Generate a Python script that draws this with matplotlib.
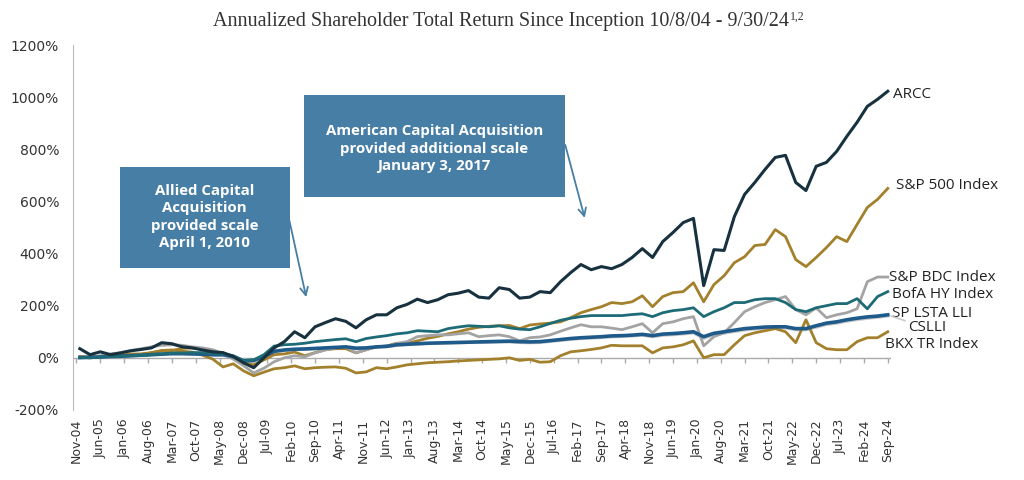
import numpy as np
import pandas as pd
import matplotlib
matplotlib.use("Agg")
import matplotlib.pyplot as plt
from matplotlib.patches import Rectangle, FancyArrowPatch

# quarter-end observations, Dec-04 .. Sep-24 (cumulative total return, %)
quarters = pd.date_range("2004-12-31", "2024-09-30", freq="QE")

arcc = [35, 12, 23, 12, 19, 27, 32, 38, 58, 54,
        42, 38, 30, 23, 20, 5, -19, -38, 0, 38,
        62, 100, 77, 119, 135, 150, 140, 115, 146, 165,
        165, 192, 205, 225, 212, 223, 242, 248, 258, 233,
        229, 269, 262, 229, 233, 254, 250, 292, 327, 358,
        338, 350, 342, 358, 385, 419, 385, 446, 481, 519,
        535, 277, 415, 412, 542, 627, 673, 723, 769, 777,
        673, 642, 735, 750, 792, 850, 904, 965, 992, 1023]

sp500 = [5, 3, 4, 8, 10, 14, 13, 19, 27, 28,
         36, 38, 33, 20, 16, 5, -20, -27, -8, 12,
         15, 22, 8, 20, 31, 35, 35, 19, 31, 42,
         45, 56, 55, 65, 75, 82, 92, 100, 110, 117,
         121, 123, 124, 112, 126, 130, 133, 138, 154, 173,
         185, 196, 212, 208, 215, 238, 196, 235, 250, 254,
         288, 215, 281, 315, 365, 388, 431, 435, 492, 465,
         377, 350, 385, 423, 465, 446, 512, 577, 608, 650]

sp_bdc = [0, 3, 8, 15, 20, 28, 35, 42, 48, 50,
          48, 42, 38, 31, 15, -5, -30, -58, -40, -15,
          0, 8, 4, 19, 30, 38, 42, 19, 31, 42,
          45, 55, 62, 81, 85, 88, 88, 92, 96, 81,
          85, 88, 81, 65, 77, 80, 88, 102, 115, 127,
          119, 119, 114, 108, 119, 131, 96, 131, 138, 150,
          158, 46, 81, 96, 135, 177, 196, 212, 223, 235,
          185, 165, 192, 154, 165, 173, 188, 292, 310, 310]

bofa_hy = [2, 0, 3, 5, 6, 8, 9, 12, 15, 18,
           18, 20, 20, 17, 17, 8, -10, -8, 12, 45,
           50, 52, 56, 62, 66, 70, 73, 62, 74, 80,
           85, 92, 96, 104, 102, 100, 112, 118, 123, 121,
           119, 123, 115, 110, 108, 119, 132, 144, 152, 158,
           162, 162, 162, 162, 166, 169, 158, 173, 181, 185,
           192, 158, 177, 192, 212, 212, 223, 227, 227, 212,
           185, 177, 192, 200, 208, 208, 227, 188, 235, 254]

sp_lsta = [1, 2, 3, 5, 6, 8, 10, 12, 14, 16,
           16, 15, 14, 12, 12, 5, -12, -10, 5, 25,
           30, 33, 34, 36, 38, 40, 42, 37, 38, 42,
           44, 50, 52, 54, 56, 57, 58, 59, 60, 61,
           62, 63, 64, 62, 61, 62, 66, 70, 74, 77,
           79, 81, 84, 85, 87, 90, 85, 91, 93, 96,
           100, 81, 94, 100, 106, 112, 115, 118, 119, 119,
           112, 112, 123, 133, 138, 146, 152, 157, 160, 165]

cslli = [0, 1, 2, 4, 5, 7, 9, 11, 13, 15,
         15, 14, 12, 10, 9, 1, -18, -15, 2, 22,
         28, 31, 32, 34, 36, 38, 40, 34, 36, 40,
         42, 47, 50, 52, 54, 55, 56, 57, 58, 58,
         59, 60, 60, 58, 57, 58, 62, 66, 70, 73,
         75, 77, 80, 81, 83, 86, 80, 86, 88, 91,
         95, 74, 88, 94, 100, 106, 110, 113, 115, 114,
         107, 107, 117, 127, 132, 140, 146, 151, 155, 160]

bkx = [2, 0, 3, 6, 10, 14, 15, 20, 28, 30,
       25, 22, 10, -5, -35, -23, -50, -69, -55, -42,
       -38, -31, -42, -38, -36, -35, -40, -58, -54, -38,
       -42, -35, -27, -23, -19, -17, -15, -12, -10, -8,
       -6, -4, 0, -10, -6, -17, -15, 8, 23, 27,
       32, 38, 48, 46, 46, 46, 19, 38, 42, 50,
       65, 0, 12, 12, 50, 85, 96, 104, 112, 100,
       58, 146, 58, 35, 31, 31, 62, 77, 77, 100]

tick_labels = ["Nov-04", "Jun-05", "Jan-06", "Aug-06", "Mar-07", "Oct-07", "May-08",
               "Dec-08", "Jul-09", "Feb-10", "Sep-10", "Apr-11", "Nov-11", "Jun-12",
               "Jan-13", "Aug-13", "Mar-14", "Oct-14", "May-15", "Dec-15", "Jul-16",
               "Feb-17", "Sep-17", "Apr-18", "Nov-18", "Jun-19", "Jan-20", "Aug-20",
               "Mar-21", "Oct-21", "May-22", "Dec-22", "Jul-23", "Feb-24", "Sep-24"]

GOLD = "#A3802B"
BOX = "#477EA5"

# months since Nov-04
x = (quarters.year - 2004) * 12 + quarters.month - 11
tick_pos = np.arange(len(tick_labels)) * 7

fig = plt.figure(figsize=(10.24, 4.8), dpi=100)
ax = fig.add_axes([0.0713, 0.146, 0.799, 0.760])

series = [
    (cslli, "#C8C8C8", 2.0),
    (bkx, GOLD, 2.0),
    (sp500, GOLD, 2.0),
    (sp_bdc, "#A3A3A3", 2.0),
    (sp_lsta, "#1F5B8A", 2.6),
    (bofa_hy, "#1D6B77", 2.0),
    (arcc, "#17313F", 2.2),
]
for vals, col, lw in series:
    ax.plot(x, vals, color=col, lw=lw, solid_joinstyle="round")

ax.set_xlim(-1, 239)
ax.set_ylim(-200, 1200)
ax.set_yticks(range(-200, 1201, 200))
ax.set_yticklabels([f"{v}%" for v in range(-200, 1201, 200)])
ax.set_xticks(tick_pos)
ax.set_xticklabels(tick_labels, rotation=90)
ax.tick_params(axis="y", length=0, labelsize=10, labelcolor="#333333", pad=10)
ax.tick_params(axis="x", length=0, labelsize=9, labelcolor="#333333", pad=6)

for side in ["top", "right", "bottom"]:
    ax.spines[side].set_visible(False)
ax.spines["left"].set_color("#BBBBBB")

# zero line with small tick marks
ax.axhline(0, color="#AAAAAA", lw=1, zorder=0)
ax.vlines(tick_pos, -20, 0, color="#AAAAAA", lw=1, zorder=0)

# end labels
lab_font = dict(fontsize=11, color="#222222", family="Open Sans", va="center")
end_x = x[-1]
ax.annotate("ARCC", (end_x, arcc[-1]), xytext=(4, -2), textcoords="offset points", **lab_font)
ax.annotate("S&P 500 Index", (end_x, sp500[-1]), xytext=(6, 2), textcoords="offset points", **lab_font)
ax.annotate("S&P BDC Index", (end_x, sp_bdc[-1]), xytext=(1, 0), textcoords="offset points", **lab_font)
ax.annotate("BofA HY Index", (end_x, bofa_hy[-1]), xytext=(3, -2), textcoords="offset points", **lab_font)
ax.annotate("SP LSTA LLI", (end_x, sp_lsta[-1]), xytext=(3, 1), textcoords="offset points", **lab_font)
ax.annotate("CSLLI", (end_x + 1, cslli[-1]), xytext=(12, -8.5), textcoords="offset points",
            arrowprops=dict(arrowstyle="-", color="#C8C8C8", lw=1.2, shrinkA=0, shrinkB=0), **lab_font)
ax.annotate("BKX TR Index", (end_x, bkx[-1]), xytext=(-2, -9.5), textcoords="offset points", **lab_font)

# title with superscript footnote marks
title = fig.text(0.4895, 0.955, "Annualized Shareholder Total Return Since Inception 10/8/04 - 9/30/24",
                 ha="center", va="center", fontsize=14.5, family="Liberation Serif", color="#333333")
fig.canvas.draw()
bb = title.get_window_extent().transformed(fig.transFigure.inverted())
fig.text(bb.x1 + 0.001, 0.966, "1,2", ha="left", va="center", fontsize=8.5,
         family="Liberation Serif", color="#333333")

# annotation boxes
box_font = dict(color="white", fontsize=10.8, fontweight="bold", family="Open Sans",
                ha="center", va="center", linespacing=1.3)
fig.patches.append(Rectangle((0.117, 0.442), 0.166, 0.210, transform=fig.transFigure,
                             facecolor=BOX, edgecolor="none", zorder=3))
fig.text(0.200, 0.548, "Allied Capital\nAcquisition\nprovided scale\nApril 1, 2010",
         zorder=4, **box_font)
fig.patches.append(Rectangle((0.297, 0.590), 0.255, 0.2125, transform=fig.transFigure,
                             facecolor=BOX, edgecolor="none", zorder=3))
fig.text(0.424, 0.690, "American Capital Acquisition\nprovided additional scale\nJanuary 3, 2017",
         zorder=4, **box_font)

arrow = dict(arrowstyle="->", color=BOX, lw=1.3, mutation_scale=14, shrinkA=0, shrinkB=0)
fig.add_artist(FancyArrowPatch((0.281, 0.556), (0.299, 0.381), transform=fig.transFigure, **arrow))
fig.add_artist(FancyArrowPatch((0.552, 0.698), (0.571, 0.546), transform=fig.transFigure, **arrow))

fig.savefig("out.png", dpi=100)
